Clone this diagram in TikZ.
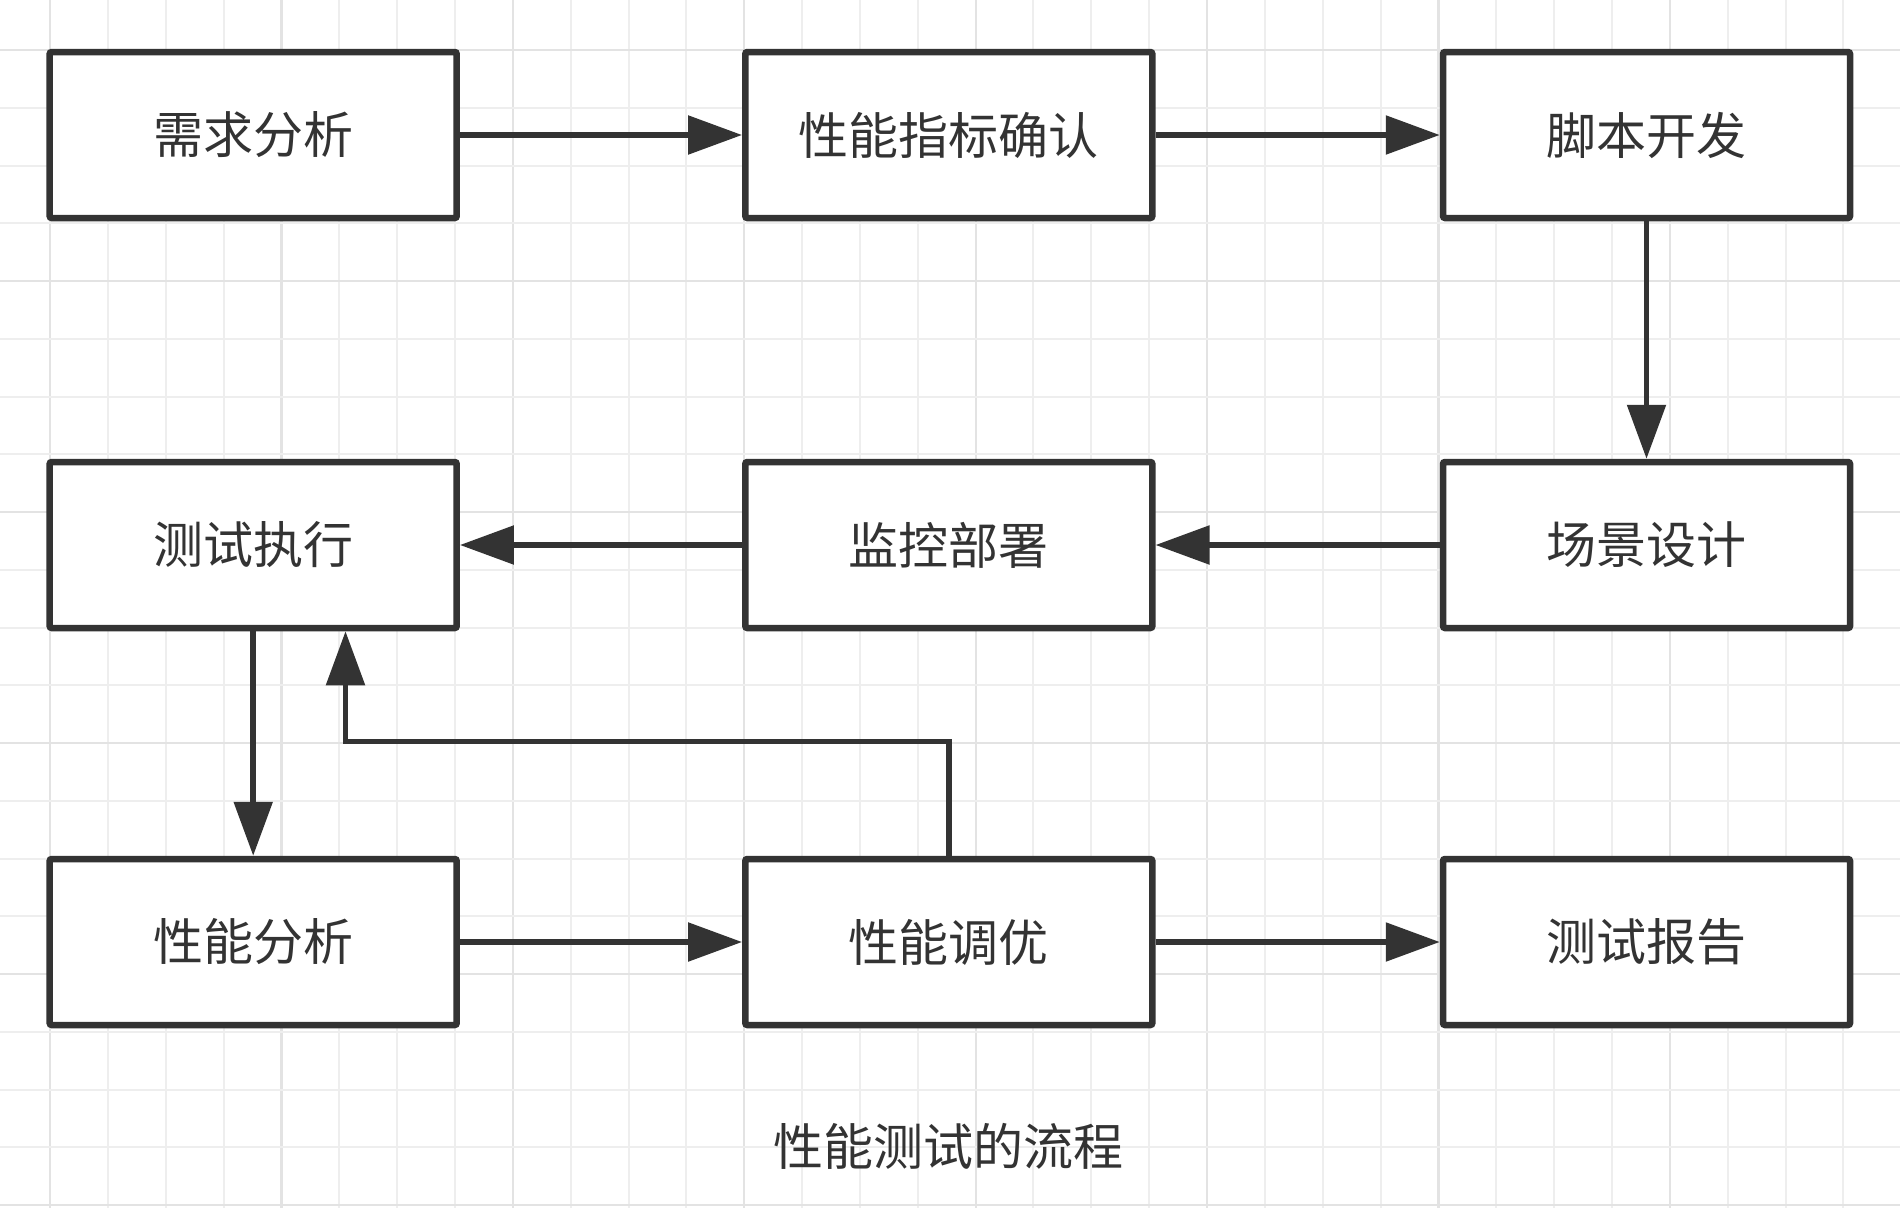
\documentclass[tikz,border=0pt]{standalone}
\usepackage{fontspec}
\newfontfamily\cjk{Noto Sans CJK SC}
\usetikzlibrary{arrows.meta}
\definecolor{ink}{HTML}{333333}
\definecolor{gridminor}{HTML}{EEEEEE}
\definecolor{gridmajor}{HTML}{E3E3E3}
\begin{document}
\begin{tikzpicture}[x=1pt,y=-1pt,
  stepbox/.style={draw=ink, line width=6.5pt, fill=white, minimum width=407pt,
    minimum height=166pt, rounded corners=2pt, inner sep=0pt,
    font=\cjk\fontsize{50}{58}\selectfont, text=ink},
  flow/.style={draw=ink, line width=5.5pt, -{Triangle[length=54pt,width=38pt]}},
  caption/.style={font=\cjk\fontsize{50}{58}\selectfont, text=ink, inner sep=0pt}]
\useasboundingbox (0,0) rectangle (1900,1208);
\fill[white] (0,0) rectangle (1900,1208);
% grid
\foreach \k in {0,...,32}{
  \pgfmathtruncatemacro{\m}{mod(\k,4)}
  \ifnum\m=0
    \draw[gridmajor, line width=2.2pt] ({50+57.85*\k},0) -- ({50+57.85*\k},1208);
  \else
    \draw[gridminor, line width=2pt] ({50+57.85*\k},0) -- ({50+57.85*\k},1208);
  \fi
}
\foreach \k in {0,...,20}{
  \pgfmathtruncatemacro{\m}{mod(\k,4)}
  \ifnum\m=0
    \draw[gridmajor, line width=2.2pt] (0,{50+57.75*\k}) -- (1900,{50+57.75*\k});
  \else
    \draw[gridminor, line width=2pt] (0,{50+57.75*\k}) -- (1900,{50+57.75*\k});
  \fi
}
% boxes
\node[stepbox] (req)    at (253.2,135) {需求分析};
\node[stepbox] (perf)   at (948.8,135) {性能指标确认};
\node[stepbox] (script) at (1646.5,135) {脚本开发};
\node[stepbox] (exec)   at (253.2,545) {测试执行};
\node[stepbox] (mon)    at (948.8,545) {监控部署};
\node[stepbox] (scene)  at (1646.5,545) {场景设计};
\node[stepbox] (ana)    at (253.2,942) {性能分析};
\node[stepbox] (tune)   at (948.8,942) {性能调优};
\node[stepbox] (report) at (1646.5,942) {测试报告};
\node[caption] (cap) at (948,1146) {性能测试的流程};
% connectors
\draw[flow] (req) -- (perf);
\draw[flow] (perf) -- (script);
\draw[flow] (script) -- (scene);
\draw[flow] (scene) -- (mon);
\draw[flow] (mon) -- (exec);
\draw[flow] (exec) -- (ana);
\draw[flow] (ana) -- (tune);
\draw[flow] (tune) -- (report);
\coordinate (bend) at (345.5,741.7);
\draw[flow] (tune.north) |- (bend) -- (bend |- exec.south);
\end{tikzpicture}
\end{document}
